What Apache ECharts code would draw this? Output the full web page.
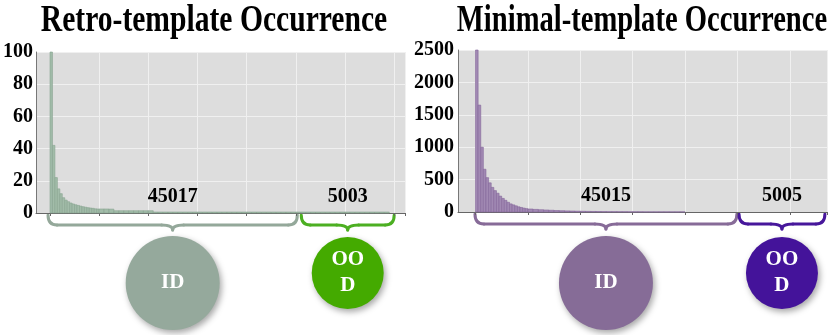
<!DOCTYPE html>
<html>
<head>
<meta charset="utf-8">
<script src="https://cdn.jsdelivr.net/npm/echarts@6/dist/echarts.min.js"></script>
<style>
  html, body { margin: 0; padding: 0; background: #fff; }
  #main { width: 831px; height: 335px; }
</style>
</head>
<body>
<div id="main"></div>
<script>
// occurrence counts, sorted by rank (head bins are 0.5 rank units wide, tail bins 1 unit)
var retroHead = [100, 42, 22, 15, 12, 9.5, 8, 7, 6.2, 5.6, 5.1, 4.7, 4.3, 3.9, 3.6, 3.3, 3.1, 2.9, 2.6, 2.5];
var retroTail = [2.5, 2.5, 2.4, 1.4, 1.4, 1.4, 1.4, 1.4, 1.4, 1.4, 1.4,
  0.6, 0.6, 0.6, 0.6, 0.6, 0.6, 0.6, 0.6, 0.6, 0.6, 0.6, 0.6, 0.6, 0.6, 0.6, 0.6,
  0.6, 0.6, 0.6, 0.6, 0.6, 0.6, 0.6, 0.6, 0.6, 0.6, 0.6, 0.6, 0.6, 0.6, 0.6, 0.6,
  0.6, 0.6, 0.6, 0.6, 0.6, 0.6, 0.6, 0.6, 0.6, 0.6, 0.6, 0.6, 0.6, 0.6, 0.6, 0.6];
var minimalHead = [2500, 1650, 1000, 660, 530, 450, 380, 330, 290, 245, 210, 180, 150, 125, 110, 95, 80, 70, 60, 52];
var minimalTail = [46, 40, 35, 31, 27, 23, 20, 17, 15, 13, 11, 9, 8, 7, 6, 5, 5, 4, 4, 3, 3, 3,
  2, 2, 2, 2, 2, 2, 2, 2];

var retroYTicks = [0, 100, 20];      // min, max, step
var minimalYTicks = [0, 2500, 500];
var groupNames = ['ID', 'OOD'];
var retroCounts = [45017, 5003];
var minimalCounts = [45015, 5005];
// rank spans covered by the ID / OOD braces
var retroSpans = [[-0.4, 50.3], [51.1, 70]];
var minimalSpans = [[-0.1, 49.9], [50.3, 66.7]];

function bins(head, tail) {
  var out = [];
  head.forEach(function (v, i) { out.push([i * 0.5, i * 0.5 + 0.5, v]); });
  tail.forEach(function (v, i) { out.push([10 + i, 11 + i, v]); });
  return out;
}

var SERIF = '"Liberation Serif", "Times New Roman", serif';
var lab = { fontFamily: SERIF, fontWeight: 'bold', fontSize: 20, color: '#000',
  formatter: function (v) { return String(v); } };

function histSeries(axisIdx, data, fill, edge) {
  return {
    type: 'custom',
    xAxisIndex: axisIdx, yAxisIndex: axisIdx,
    data: data,
    encode: { x: [0, 1], y: 2 },
    renderItem: function (params, api) {
      var p0 = api.coord([api.value(0), api.value(2)]);
      var p1 = api.coord([api.value(1), 0]);
      return {
        type: 'rect',
        shape: { x: p0[0], y: p0[1], width: p1[0] - p0[0], height: p1[1] - p0[1] },
        style: { fill: fill, stroke: edge, lineWidth: 0.6 }
      };
    }
  };
}

var chart = echarts.init(document.getElementById('main'));

var option = {
  animation: false,
  grid: [
    { left: 33, right: 426, top: 52, height: 161, show: true, backgroundColor: '#dddddd', borderWidth: 0 },
    { left: 50, right: 426, top: 52, height: 161 },
    { left: 458, right: 4, top: 50, height: 162, show: true, backgroundColor: '#dddddd', borderWidth: 0 },
    { left: 475.5, right: 4, top: 50, height: 162 }
  ],
  xAxis: [
    { type: 'value', gridIndex: 0, min: 0, max: 1, axisLine: { show: true, lineStyle: { color: '#666' } },
      axisTick: { show: false }, axisLabel: { show: false }, splitLine: { show: false } },
    { type: 'value', gridIndex: 1, min: 0, max: 72.2, interval: 10, axisLine: { show: false },
      axisTick: { show: true, length: 3, lineStyle: { color: '#666' } }, axisLabel: { show: false },
      splitLine: { show: true, lineStyle: { color: '#f0f0f0', width: 1 } } },
    { type: 'value', gridIndex: 2, min: 0, max: 1, axisLine: { show: true, lineStyle: { color: '#666' } },
      axisTick: { show: false }, axisLabel: { show: false }, splitLine: { show: false } },
    { type: 'value', gridIndex: 3, min: 0, max: 67.1, interval: 10, axisLine: { show: false },
      axisTick: { show: true, length: 3, lineStyle: { color: '#666' } }, axisLabel: { show: false },
      splitLine: { show: true, lineStyle: { color: '#f0f0f0', width: 1 } } }
  ],
  yAxis: [
    { type: 'value', gridIndex: 0, min: retroYTicks[0], max: retroYTicks[1], interval: retroYTicks[2],
      axisLine: { show: true, lineStyle: { color: '#777' } }, axisTick: { show: false },
      axisLabel: Object.assign({ margin: 3 }, lab),
      splitLine: { lineStyle: { color: '#f0f0f0' } } },
    { type: 'value', gridIndex: 1, min: retroYTicks[0], max: retroYTicks[1], show: false },
    { type: 'value', gridIndex: 2, min: minimalYTicks[0], max: minimalYTicks[1], interval: minimalYTicks[2],
      axisLine: { show: true, lineStyle: { color: '#777' } }, axisTick: { show: false },
      axisLabel: Object.assign({ margin: 4 }, lab),
      splitLine: { lineStyle: { color: '#f0f0f0' } } },
    { type: 'value', gridIndex: 3, min: minimalYTicks[0], max: minimalYTicks[1], show: false }
  ],
  series: [
    histSeries(1, bins(retroHead, retroTail), '#a2bca9', '#88a591'),
    histSeries(3, bins(minimalHead, minimalTail), '#a189b3', '#84679a')
  ]
};
chart.setOption(option);

// annotations: titles, counts, braces and group bubbles
function brace(x0, x1, xm, yTop, color) {
  var yMid = yTop + 10, yTip = yTop + 15, r = 9, rm = 11;
  var st = { stroke: color, lineWidth: 3, fill: null, lineCap: 'round' };
  return [
    { type: 'bezierCurve', shape: { x1: x0, y1: yTop, x2: x0 + r, y2: yMid, cpx1: x0, cpy1: yMid }, style: st },
    { type: 'line', shape: { x1: x0 + r, y1: yMid, x2: xm - rm, y2: yMid }, style: st },
    { type: 'bezierCurve', shape: { x1: xm - rm, y1: yMid, x2: xm, y2: yTip, cpx1: xm, cpy1: yMid }, style: st },
    { type: 'bezierCurve', shape: { x1: xm, y1: yTip, x2: xm + rm, y2: yMid, cpx1: xm, cpy1: yMid }, style: st },
    { type: 'line', shape: { x1: xm + rm, y1: yMid, x2: x1 - r, y2: yMid }, style: st },
    { type: 'bezierCurve', shape: { x1: x1 - r, y1: yMid, x2: x1, y2: yTop, cpx1: x1, cpy1: yMid }, style: st }
  ];
}

function txt(x, y, s, size, color, extra) {
  return Object.assign({
    type: 'text', x: x, y: y, z: 20,
    style: { text: s, fill: color, font: 'bold ' + size + 'px ' + SERIF,
      align: 'center', verticalAlign: 'middle', textAlign: 'center', textVerticalAlign: 'middle', lineHeight: 26 }
  }, extra || {});
}

function bubble(cx, cy, r, fill, label) {
  return [
    { type: 'circle', z: 10, shape: { cx: cx, cy: cy, r: r },
      style: { fill: fill, shadowBlur: 6, shadowOffsetX: 2, shadowOffsetY: 3, shadowColor: 'rgba(0,0,0,0.35)' } },
    txt(cx, cy, label, 21, '#fff')
  ];
}

var gfx = [];
gfx.push(txt(214, 21, 'Retro-template Occurrence', 29.6, '#000', { scaleY: 1.3 }));
gfx.push(txt(642, 21, 'Minimal-template Occurrence', 28.6, '#000', { scaleY: 1.3 }));

function annotate(axisIdx, spans, counts, colors) {
  var yAxisPx = chart.convertToPixel({ yAxisIndex: axisIdx }, 0);
  spans.forEach(function (sp, k) {
    var x0 = chart.convertToPixel({ xAxisIndex: axisIdx }, sp[0]);
    var x1 = chart.convertToPixel({ xAxisIndex: axisIdx }, sp[1]);
    var xm = (x0 + x1) / 2;
    gfx.push(txt(xm, yAxisPx - 16, String(counts[k]), 20, '#000'));
    brace(x0, x1, xm, yAxisPx + 2, colors[k][0]).forEach(function (e) { gfx.push(e); });
    var label = groupNames[k] === 'OOD' ? 'OO\nD' : groupNames[k];
    var cy = k === 0 ? 283 : 273;
    var r = k === 0 ? 47 : 36;
    bubble(xm, cy, r, colors[k][1], label).forEach(function (e) { gfx.push(e); });
  });
}

annotate(1, retroSpans, retroCounts, [['#94a89a', '#95a99c'], ['#4caf22', '#44aa00']]);
annotate(3, minimalSpans, minimalCounts, [['#876b98', '#866c97'], ['#47179b', '#44139a']]);

chart.setOption({ graphic: gfx });
</script>
</body>
</html>
